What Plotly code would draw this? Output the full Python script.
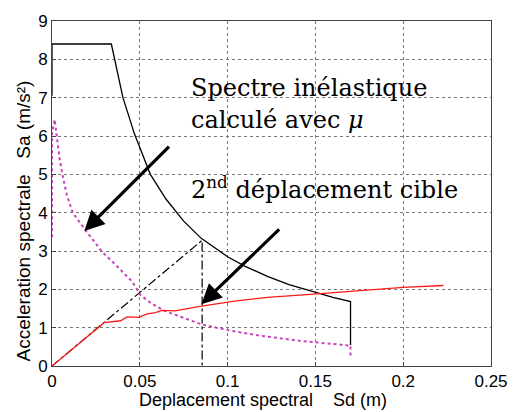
import plotly.graph_objects as go

# Elastic demand spectrum (black)
el_sd = [0, 0, 0.0338, 0.0404, 0.047, 0.056, 0.065, 0.075, 0.085, 0.100, 0.110, 0.123, 0.135, 0.151, 0.160, 0.170, 0.170]
el_sa = [7.05, 8.4, 8.4, 7.0, 6.05, 5.0, 4.35, 3.78, 3.33, 2.85, 2.60, 2.33, 2.12, 1.90, 1.79, 1.68, 0.55]

# Inelastic spectrum computed with mu (magenta dotted)
in_sd = [0, 0, 0.0015, 0.0025, 0.0042, 0.0059, 0.0085, 0.0118, 0.0155, 0.0194, 0.0240, 0.0285, 0.0360, 0.0457,
         0.0504, 0.0570, 0.0645, 0.0745, 0.0855, 0.102, 0.117, 0.1406, 0.155, 0.170, 0.170]
in_sa = [3.36, 6.07, 6.43, 6.0, 5.45, 5.0, 4.45, 4.0, 3.75, 3.52, 3.25, 2.98, 2.65, 2.2,
         1.85, 1.62, 1.43, 1.26, 1.08, 0.92, 0.80, 0.66, 0.60, 0.53, 0.2]

# Capacity curve (red)
cap_sd = [0, 0.0297, 0.0391, 0.0427, 0.0494, 0.0542, 0.0589, 0.0626, 0.070, 0.0851, 0.104, 0.1227, 0.151, 0.179, 0.200, 0.2229]
cap_sa = [0, 1.13, 1.18, 1.28, 1.27, 1.36, 1.39, 1.45, 1.44, 1.56, 1.69, 1.79, 1.88, 1.97, 2.05, 2.10]

# Target displacement construction (dash-dot)
tgt_sd = [0, 0.0855, 0.0855]
tgt_sa = [0, 3.28, 0]

x_ticks = [0, 0.05, 0.1, 0.15, 0.2, 0.25]
x_labels = ["0", "0.05", "0.1", "0.15", "0.2", "0.25"]
y_ticks = [0, 1, 2, 3, 4, 5, 6, 7, 8, 9]

# arrows: (tail_x, tail_y, tip_x, tip_y)
arrows = [(0.0675, 5.76, 0.0184, 3.52), (0.1302, 3.60, 0.0851, 1.61)]

W, H = 520, 412
L, R, T, B = 52, 24, 16, 46
pw, ph = W - L - R, H - T - B


def px(xp, yp):
    return (xp - L) / pw, 1 - (yp - T) / ph


fig = go.Figure()
fig.add_trace(go.Scatter(x=tgt_sd, y=tgt_sa, mode="lines",
                         line=dict(color="black", width=1.2, dash="dashdot"), hoverinfo="skip"))
fig.add_trace(go.Scatter(x=el_sd, y=el_sa, mode="lines",
                         line=dict(color="black", width=1.3), hoverinfo="skip"))
fig.add_trace(go.Scatter(x=in_sd, y=in_sa, mode="lines",
                         line=dict(color="#c844b8", width=2, dash="dot"), hoverinfo="skip"))
fig.add_trace(go.Scatter(x=cap_sd, y=cap_sa, mode="lines",
                         line=dict(color="#ff1a1a", width=1.3), hoverinfo="skip"))

for tx, ty, hx, hy in arrows:
    fig.add_annotation(x=hx, y=hy, ax=tx, ay=ty, xref="x", yref="y", axref="x", ayref="y",
                       text="", showarrow=True, arrowhead=2, arrowsize=1.25, arrowwidth=3.2,
                       arrowcolor="black")

serif = "DejaVu Serif, serif"
for label, (xp, yp) in [("Spectre inélastique", (191, 84)),
                        ("calculé avec <i>μ</i>", (191, 116)),
                        ("2<sup>nd</sup> déplacement cible", (191, 185))]:
    xx, yy = px(xp, yp)
    fig.add_annotation(x=xx, y=yy, xref="paper", yref="paper", text=label,
                       showarrow=False, xanchor="left", yanchor="middle",
                       font=dict(family=serif, size=24, color="black"))

sans = "Liberation Sans, Arial, sans-serif"
xx, yy = px(265, 400)
fig.add_annotation(x=xx, y=yy, xref="paper", yref="paper",
                   text="Deplacement spectral\u00a0\u00a0\u00a0\u00a0Sd (m)", showarrow=False,
                   xanchor="center", yanchor="middle", font=dict(family=sans, size=18, color="black"))
xx, yy = px(23, 219)
fig.add_annotation(x=xx, y=yy, xref="paper", yref="paper", textangle=-90,
                   text="Acceleration spectrale\u00a0\u00a0\u00a0Sa (m/s²)", showarrow=False,
                   xanchor="center", yanchor="middle", font=dict(family=sans, size=19, color="black"))

axis_common = dict(showgrid=True, gridcolor="#777", griddash="dot", gridwidth=1,
                   showline=True, linecolor="#444", linewidth=1, mirror=True,
                   ticks="inside", ticklen=4, tickcolor="#444", zeroline=False,
                   tickfont=dict(family=sans, size=17, color="black"))
fig.update_xaxes(range=[0, 0.25], tickvals=x_ticks, ticktext=x_labels, **axis_common)
fig.update_yaxes(range=[0, 9], tickvals=y_ticks, **axis_common)

fig.update_layout(width=W, height=H, margin=dict(l=L, r=R, t=T, b=B),
                  plot_bgcolor="white", paper_bgcolor="white", showlegend=False)

fig.write_html("out.html")
